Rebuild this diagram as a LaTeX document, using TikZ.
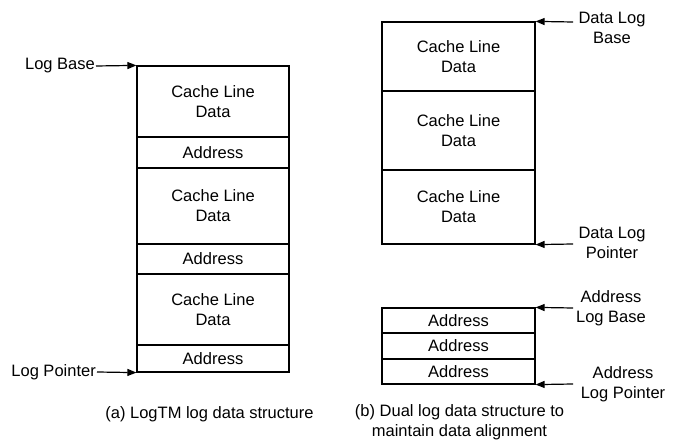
\documentclass[tikz,border=0pt]{standalone}
\usepackage{fontspec}
\setmainfont{Liberation Sans}
\usetikzlibrary{arrows.meta}
\tikzset{
  cell/.style={draw, line width=1.2bp, inner sep=0pt, align=center, minimum width=152bp},
  lbl/.style={inner sep=1bp, align=center},
  ptr/.style={line width=1.2bp, -{Triangle[length=9bp,width=7bp]}}
}
\begin{document}
\begin{tikzpicture}[x=1bp,y=-1bp, font=\fontsize{16.5bp}{20bp}\selectfont]
\useasboundingbox (0,0) rectangle (678,443);
% (a) LogTM log
\node[cell, minimum height=71bp] (d1) at (213,101.5) {Cache Line\\Data};
\node[cell, minimum height=31bp] (a1) at (213,152.5) {Address};
\node[cell, minimum height=76bp] (d2) at (213,206) {Cache Line\\Data};
\node[cell, minimum height=30bp] (a2) at (213,259) {Address};
\node[cell, minimum height=71bp] (d3) at (213,309.5) {Cache Line\\Data};
\node[cell, minimum height=27bp] (a3) at (213,358.5) {Address};
\node[lbl, anchor=east] (lb) at (96,66) {Log Base};
\node[lbl, anchor=east] (lp) at (97,372) {Log Pointer};
\draw[ptr] (lb.east) -- (d1.north west);
\draw[ptr] (lp.east) -- (a3.south west);
\node[lbl] (capa) at (209.5,414) {(a) LogTM log data structure};
% (b) Dual log - data
\node[cell, minimum width=153bp, minimum height=69bp] (r1) at (458.5,56.5) {Cache Line\\Data};
\node[cell, minimum width=153bp, minimum height=79bp] (r2) at (458.5,130.5) {Cache Line\\Data};
\node[cell, minimum width=153bp, minimum height=74bp] (r3) at (458.5,207) {Cache Line\\Data};
\node[lbl] (dlb) at (612,27.5) {Data Log\\Base};
\node[lbl] (dlp) at (612,242.5) {Data Log\\Pointer};
\coordinate (dlbT) at (573,22);
\coordinate (dlpT) at (573,244);
\draw[ptr] (dlbT) -- (r1.north east);
\draw[ptr] (dlpT) -- (r3.south east);
% (b) Dual log - address
\node[cell, minimum width=153bp, minimum height=25bp] (s1) at (458.5,320.5) {Address};
\node[cell, minimum width=153bp, minimum height=26bp] (s2) at (458.5,346) {Address};
\node[cell, minimum width=153bp, minimum height=25bp] (s3) at (458.5,371.5) {Address};
\node[lbl] (alb) at (611,308) {Address\\Log Base};
\node[lbl] (alp) at (623,384.5) {Address\\Log Pointer};
\coordinate (albT) at (573,308);
\coordinate (alpT) at (573,384);
\draw[ptr] (albT) -- (s1.north east);
\draw[ptr] (alpT) -- (s3.south east);
\node[lbl] (capb) at (459.5,422.5) {(b) Dual log data structure to\\maintain data alignment};
\end{tikzpicture}
\end{document}
